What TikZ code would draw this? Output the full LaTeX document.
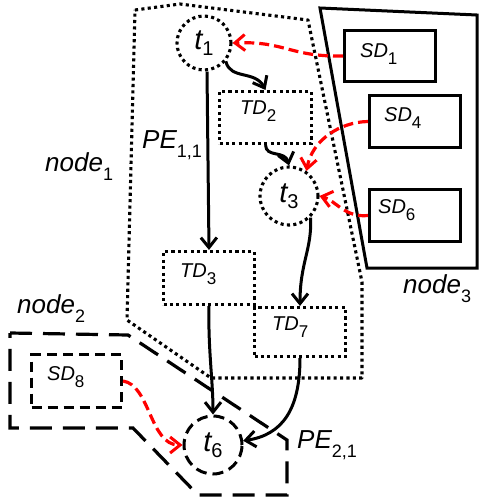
\documentclass[tikz,border=0pt]{standalone}
\usepackage{fontspec}
\setmainfont{Liberation Sans}
\usetikzlibrary{arrows.meta}

% task labels, data labels and group labels with upright subscripts
\newcommand\tlab[1]{{\fontsize{29}{29}\selectfont\itshape t}\raisebox{-6pt}{\fontsize{20}{20}\selectfont #1}}
\newcommand\blab[2]{{\fontsize{20}{20}\selectfont\itshape #1}\raisebox{-7pt}{\fontsize{17}{17}\selectfont #2}}
\newcommand\glab[2]{{\fontsize{26}{26}\selectfont\itshape #1}\raisebox{-9pt}{\fontsize{18}{18}\selectfont #2}}

\tikzset{
  dotline/.style={line width=3.1pt, dash pattern=on 3.1pt off 3.3pt},
  dotbox/.style={draw, dotline, rectangle, inner sep=0pt},
  dotcirc/.style={draw, dotline, circle, inner sep=0pt, minimum size=#1},
  solidbox/.style={draw, line width=3pt, rectangle, inner sep=0pt},
  dashbox/.style={draw, line width=3pt, dash pattern=on 11pt off 6pt, rectangle, inner sep=0pt},
  dashcirc/.style={draw, line width=3pt, dash pattern=on 11pt off 6pt, circle, inner sep=0pt, minimum size=#1},
  txt/.style={anchor=base west, inner sep=0pt},
  flow/.style={line width=3pt, -{Straight Barb[length=10pt,width=16pt,line width=3pt]}},
  sdflow/.style={draw=red, line width=3.2pt, dash pattern=on 10pt off 5pt,
    -{Straight Barb[length=10pt,width=16pt,line width=3pt,color=red]}},
}

\begin{document}
\begin{tikzpicture}[x=1pt, y=-1pt]
\useasboundingbox (0,0) rectangle (479,504);

% groups
\draw[dotline, line join=round] (135,10) -- (180,4) -- (308,20) -- (362,282) -- (362,378)
  -- (211,378) -- (127,320) -- cycle;
\draw[line width=3pt, line join=miter] (320,8) -- (477,15) -- (477,268) -- (367,268) -- cycle;
\draw[line width=3.2pt, dash pattern=on 22pt off 11pt] (10,333) -- (128,335) -- (287,440)
  -- (287,495) -- (198,495) -- (133,428) -- (10,428) -- cycle;

% tasks
\node[dotcirc=54pt] (t1) at (204,43) {\tlab{1}};
\node[dotcirc=58pt] (t3) at (289,196) {\tlab{3}};
\node[dashcirc=58pt] (t6) at (213,445) {\tlab{6}};

% temporary data
\node[dotbox, minimum width=92pt, minimum height=52pt] (td2) at (265.5,117.5) {};
\node[dotbox, minimum width=91pt, minimum height=53pt] (td3) at (209,278) {};
\node[dotbox, minimum width=91pt, minimum height=49pt] (td7) at (300,332) {};

% stored data
\node[solidbox, minimum width=91pt, minimum height=51pt] (sd1) at (390,56) {};
\node[solidbox, minimum width=91pt, minimum height=52pt] (sd4) at (415,121.5) {};
\node[solidbox, minimum width=91pt, minimum height=52pt] (sd6) at (415,215.5) {};
\node[dashbox, minimum width=90pt, minimum height=53pt, dash pattern=on 10pt off 6pt] (sd8) at (76.5,381) {};

% box texts
\node[txt] (td2l) at (240,114) {\blab{TD}{2}};
\node[txt] (td3l) at (180,277) {\blab{TD}{3}};
\node[txt] (td7l) at (272,330) {\blab{TD}{7}};
\node[txt] (sd1l) at (360,57) {\blab{SD}{1}};
\node[txt] (sd4l) at (384,121) {\blab{SD}{4}};
\node[txt] (sd6l) at (378,213) {\blab{SD}{6}};
\node[txt] (sd8l) at (47,380) {\blab{SD}{8}};

% group texts
\node[txt] (n1l) at (45,171) {\glab{node}{1}};
\node[txt] (n2l) at (17,313) {\glab{node}{2}};
\node[txt] (n3l) at (403,293) {\glab{node}{3}};
\node[txt] (pe11l) at (142,148) {\glab{PE}{1,1}};
\node[txt] (pe21l) at (297,448) {\glab{PE}{2,1}};

% control and data flow
\draw[flow] ([xshift=3pt]t1.south) -- (td3.north);
\draw[flow] (t1.-40) .. controls (230,80) and (255,70) .. (td2.north);
\draw[flow] (td2.south) .. controls (266,158) and (285,150) .. (t3.north);
\draw[flow] (t3.-45) .. controls (312,250) and (300,262) .. (td7.north);
\draw[flow] (td3.south) .. controls (208,350) and (213,380) .. (t6.north);
\draw[flow] (td7.south) .. controls (300,410) and (282,435) .. (t6.8);

% stored data reads
\draw[sdflow] (sd1.west) .. controls (290,57) and (285,41) .. (t1.east);
\draw[sdflow] (sd4.west) .. controls (340,122) and (312,140) .. (t3.55);
\draw[sdflow] (sd6.west) .. controls (345,218) and (335,200) .. (t3.east);
\draw[sdflow] (sd8.east) .. controls (150,385) and (150,445) .. (t6.west);
\end{tikzpicture}
\end{document}
